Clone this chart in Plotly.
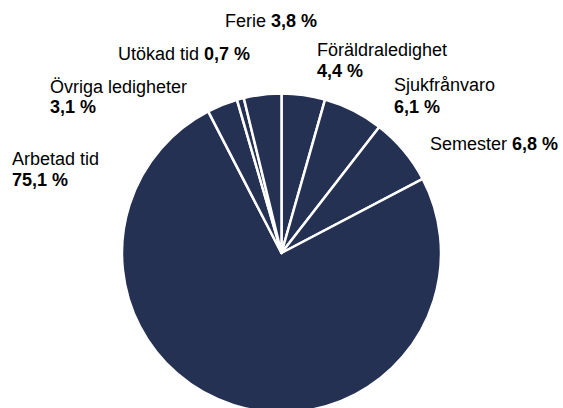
import plotly.graph_objects as go

# Data
categories = ["Föräldraledighet", "Sjukfrånvaro", "Semester", "Arbetad tid",
              "Övriga ledigheter", "Utökad tid", "Ferie"]
values = [4.4, 6.1, 6.8, 75.1, 3.1, 0.7, 3.8]
value_labels = ["4,4 %", "6,1 %", "6,8 %", "75,1 %", "3,1 %", "0,7 %", "3,8 %"]

W = 563
H = 413  # slightly taller than the window so the pie's bottom is cut off like the reference
NAVY = "#253152"
FONT = "Liberation Sans, Arial, sans-serif"

fig = go.Figure(go.Pie(
    labels=categories,
    values=values,
    sort=False,
    direction="clockwise",
    rotation=0,
    textinfo="none",
    hoverinfo="label+percent",
    marker=dict(colors=[NAVY] * len(values), line=dict(color="white", width=2.5)),
    domain=dict(x=[122 / W, 441 / W], y=[0, 1 - 93 / H]),
    showlegend=False,
))

# label layout: (category index, two-line?, left x px, line1 center y px, line2 center y px)
label_layout = [
    (6, False, 223, 21, None),
    (5, False, 116, 54, None),
    (0, True, 315, 50, 71),
    (1, True, 392, 85, 107),
    (2, False, 428, 144, None),
    (4, True, 48, 87, 107),
    (3, True, 10, 159, 180),
]

def px_x(x):
    return x / W

def px_y(y):
    return 1 - y / H

annotations = []
for idx, two_line, lx, y1, y2 in label_layout:
    name = categories[idx]
    val = value_labels[idx]
    if two_line:
        annotations.append(dict(text=name, x=px_x(lx), y=px_y(y1)))
        annotations.append(dict(text=f"<b>{val}</b>", x=px_x(lx), y=px_y(y2)))
    else:
        annotations.append(dict(text=f"{name} <b>{val}</b>", x=px_x(lx), y=px_y(y1)))

for a in annotations:
    a.update(xref="paper", yref="paper", xanchor="left", yanchor="middle",
             showarrow=False, font=dict(family=FONT, size=18, color="#000000"))

fig.update_layout(
    width=W, height=H,
    margin=dict(l=0, r=0, t=0, b=0),
    paper_bgcolor="white",
    plot_bgcolor="white",
    annotations=annotations,
    font=dict(family=FONT),
)

fig.write_html(
    "out.html",
    config={"displayModeBar": False},
    post_script="document.body.style.margin='0';document.body.style.overflow='hidden';",
)
